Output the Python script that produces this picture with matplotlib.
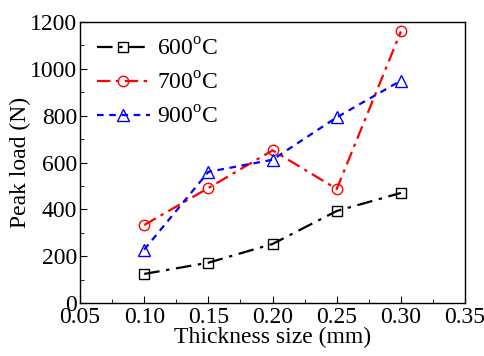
import matplotlib.pyplot as plt
from matplotlib.ticker import MultipleLocator

plt.rcParams['font.family'] = 'Liberation Serif'
plt.rcParams['mathtext.fontset'] = 'custom'
plt.rcParams['mathtext.rm'] = 'Liberation Serif'

thickness = [0.10, 0.15, 0.20, 0.25, 0.30]
load_600 = [124, 172, 252, 393, 470]
load_700 = [333, 491, 652, 487, 1160]
load_900 = [228, 560, 612, 793, 950]

fig = plt.figure(figsize=(4.85, 3.56), dpi=100)
ax = fig.add_axes([0.165, 0.149, 0.794, 0.789])

ax.plot(thickness, load_600, color='black', linestyle=(0, (7, 3, 1.5, 3)), lw=1.6,
        marker='s', ms=6.5, mfc='none', mec='black', mew=1.0, label='600$^{\\rm o}$C')
ax.plot(thickness, load_700, color='red', linestyle=(0, (6, 2.5, 1.5, 2.5)), lw=1.6,
        marker='o', ms=7.5, mfc='none', mec='red', mew=1.0, label='700$^{\\rm o}$C')
ax.plot(thickness, load_900, color='blue', linestyle=(0, (3, 2.5)), lw=1.6,
        marker='^', ms=8.5, mfc='none', mec='blue', mew=1.0, label='900$^{\\rm o}$C')

ax.set_xlim(0.05, 0.35)
ax.set_ylim(0, 1200)
ax.xaxis.set_minor_locator(MultipleLocator(0.025))
ax.yaxis.set_major_locator(MultipleLocator(200))
ax.yaxis.set_minor_locator(MultipleLocator(100))
ax.set_xticks([0.05, 0.10, 0.15, 0.20, 0.25, 0.30, 0.35])
ax.set_xticklabels(['0.05', '0.10', '0.15', '0.20', '0.25', '0.30', '0.35'])
ax.tick_params(which='both', direction='in', labelsize=17, pad=2)
ax.tick_params(axis='x', pad=3)
ax.tick_params(which='major', length=5)
ax.tick_params(which='minor', length=3)
for s in ax.spines.values():
    s.set_linewidth(1.0)

ax.set_xlabel('Thickness size (mm)', fontsize=17, labelpad=-1)
ax.set_ylabel('Peak load (N)', fontsize=17, labelpad=-1)

ax.legend(loc='upper left', frameon=False, fontsize=17, handlelength=2.25,
          handletextpad=0.3, borderaxespad=0.3, labelspacing=0.5)

fig.savefig('out.png', dpi=100)
